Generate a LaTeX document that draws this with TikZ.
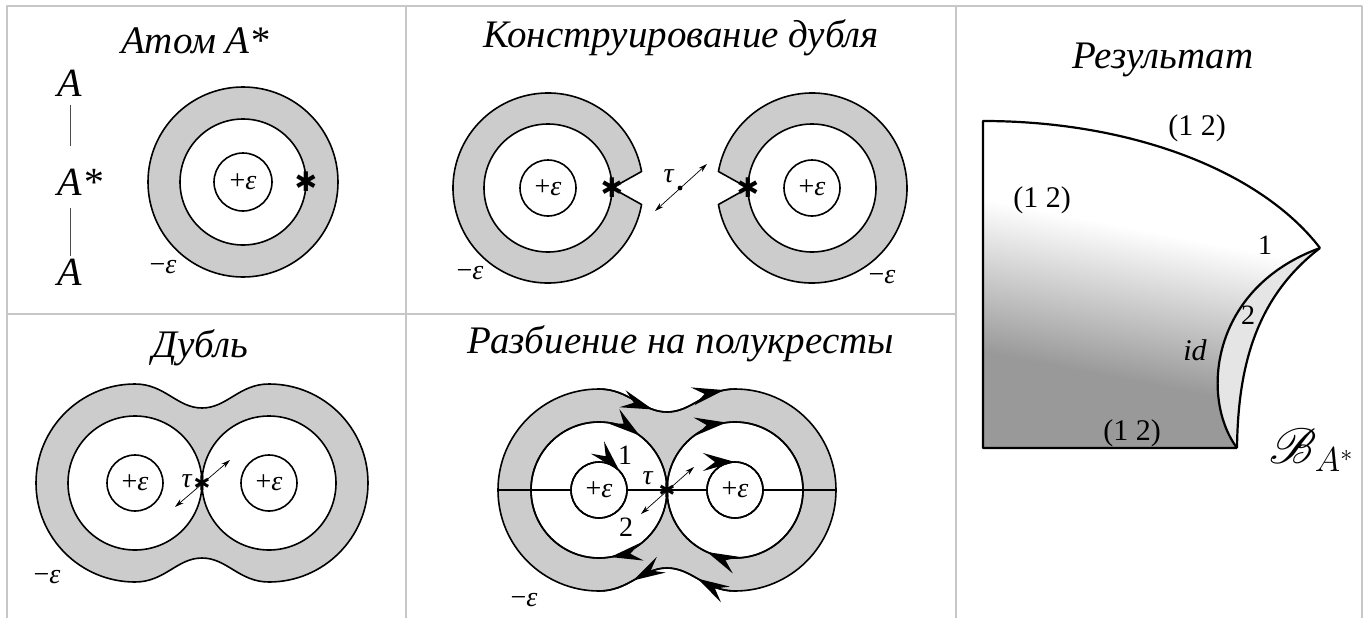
\documentclass[tikz,border=0pt]{standalone}
\usepackage{fontspec}
\setmainfont{Liberation Serif}
\newfontfamily\symfont{DejaVu Sans}
\usepackage{mathrsfs}
\usetikzlibrary{arrows.meta,decorations.markings,calc}
\tikzset{flowtip/.tip={Stealth[length=16pt,width=9pt,inset=6pt]}}
\colorlet{fadedark}{black!40}
\colorlet{fadelight}{white}
\pgfdeclareverticalshading{fade}{100bp}{color(0bp)=(fadedark); color(35bp)=(fadedark); color(58bp)=(fadelight); color(100bp)=(fadelight)}
\begin{document}
\begin{tikzpicture}[x=0.5pt, y=0.5pt, line join=round,
  grid/.style={draw=black!22, line width=1pt},
  rim/.style={draw, line width=0.8pt},
  band/.style={rim, fill=black!20, even odd rule},
  edge/.style={draw, line width=1.1pt},
  title/.style={font=\fontsize{19.5}{22}\selectfont\itshape, anchor=base},
  bigA/.style={font=\fontsize{20}{22}\selectfont\itshape, inner sep=0pt},
  lbl/.style={font=\fontsize{14}{16}\selectfont, inner sep=1pt},
  perm/.style={font=\fontsize{15}{17}\selectfont, inner sep=1pt},
  starmk/.style={font=\fontsize{13.5}{14}\selectfont\symfont, inner sep=0pt},
  twist/.style={{Stealth[length=4.5pt,width=2.6pt]}-{Stealth[length=4.5pt,width=2.6pt]}, line width=0.35pt},
  cw at/.style={postaction={decorate, decoration={markings,
      mark=at position #1 with {\arrowreversed{flowtip}}}}},
  fw at/.style={postaction={decorate, decoration={markings,
      mark=at position #1 with {\arrow{flowtip}}}}},
]
\useasboundingbox (0,0) rectangle (1371,618);

% table rules
\draw[grid] (7,0) -- (7,612) -- (1362,612) -- (1362,0);
\draw[grid] (406,0) -- (406,612);
\draw[grid] (956,0) -- (956,612);
\draw[grid] (7,304) -- (956,304);

% atom A*
\node[title] (t1) at (195,565) {Атом A*};
\node[bigA] (aup) at (70,535) {A};
\node[bigA] (amid) at (70,436) {A\rlap{*}};
\node[bigA] (adown) at (70,346) {A};
\draw[line width=0.5pt, black!70, shorten <=4pt, shorten >=11pt] (aup.south) -- (aup.south |- amid.north);
\draw[line width=0.5pt, black!70, shorten <=6pt, shorten >=1pt] (adown.north |- amid.south) -- (adown.north);
\coordinate (c1) at (243,436);
\path[band] (c1) circle[radius=95] (c1) circle[radius=63];
\draw[rim] (c1) circle[radius=29];
\node[lbl] (e1) at (c1) {+\textit{ε}};
\node[starmk] (s1) at ($(c1)+(63,0)$) {✱};
\node[lbl] (m1) at (163,351) {−\textit{ε}};

% building the double
\node[title] (t2) at (681,571) {Конструирование дубля};
\coordinate (c2l) at (548,430);
\coordinate (c2r) at (812,430);
\path[band] ($(c2l)+(10:95)$) arc[start angle=10, end angle=350, radius=95]
  -- ($(c2l)+(64,0)$) -- cycle (c2l) circle[radius=64];
\path[band] ($(c2r)+(190:95)$) arc[start angle=190, end angle=530, radius=95]
  -- ($(c2r)+(-64,0)$) -- cycle (c2r) circle[radius=64];
\draw[rim] (c2l) circle[radius=28] (c2r) circle[radius=28];
\node[lbl] (e2l) at (c2l) {+\textit{ε}};
\node[lbl] (e2r) at (c2r) {+\textit{ε}};
\node[starmk] (s2l) at ($(c2l)+(64,0)$) {✱};
\node[starmk] (s2r) at ($(c2r)+(-64,0)$) {✱};
\coordinate (g2) at ($(s2l)!0.5!(s2r)$);
\coordinate (g2a) at ($(g2)+(-25,-23)$);
\coordinate (g2b) at ($(g2)+(27,24)$);
\draw[twist] (g2a) -- (g2b);
\fill (g2) circle[radius=2.4];
\node[lbl] (tau2) at ($(g2)+(-11,12)$) {\textit{τ}};
\node[lbl] (m2l) at (470,345) {−\textit{ε}};
\node[lbl] (m2r) at (882,341) {−\textit{ε}};

% the double
\node[title] (t3) at (200,261) {Дубль};
\begin{scope}[shift={(202,135)}]
  \coordinate (d3) at (0,0);
  \path[band] (-67,99) .. controls (-37,99) and (-25,75) .. (0,75)
    .. controls (25,75) and (37,99) .. (67,99)
    arc[start angle=90, end angle=-90, radius=99]
    .. controls (37,-99) and (25,-75) .. (0,-75)
    .. controls (-25,-75) and (-37,-99) .. (-67,-99)
    arc[start angle=270, end angle=90, radius=99] -- cycle
    (-67,0) circle[radius=67] (67,0) circle[radius=67];
  \draw[rim] (-67,0) circle[radius=28] (67,0) circle[radius=28];
  \node[lbl] (e3l) at (-67,0) {+\textit{ε}};
  \node[lbl] (e3r) at (67,0) {+\textit{ε}};
  \coordinate (g3a) at (-27,-24);
  \coordinate (g3b) at (28,23);
  \draw[twist] (g3a) -- (g3b);
  \node[starmk, font=\fontsize{10}{10}\selectfont\symfont] (s3) at (d3) {✱};
  \node[lbl] (tau3) at (-15,2) {\textit{τ}};
\end{scope}
\node[lbl] (m3) at (47,41) {−\textit{ε}};

% splitting into half-crosses
\node[title] (t4) at (681,265) {Разбиение на полукресты};
\begin{scope}[shift={(667,128)}]
  \coordinate (d4) at (0,0);
  \path[band] (-68,101) .. controls (-38,101) and (-25,78) .. (0,78)
    .. controls (25,78) and (38,101) .. (68,101)
    arc[start angle=90, end angle=-90, radius=101]
    .. controls (38,-101) and (25,-78) .. (0,-78)
    .. controls (-25,-78) and (-38,-101) .. (-68,-101)
    arc[start angle=270, end angle=90, radius=101] -- cycle
    (-68,0) circle[radius=68] (68,0) circle[radius=68];
  \draw[rim] (-68,0) circle[radius=28] (68,0) circle[radius=28];
  % cut line
  \draw[rim] (-169,0) -- (-96,0) (-40,0) -- (40,0) (96,0) -- (169,0);
  % orientation
  \draw[rim, fw at=0.8] (-68,101) .. controls (-38,101) and (-25,78) .. (0,78);
  \draw[rim, fw at=0.85] (0,78) .. controls (25,78) and (38,101) .. (68,101);
  \draw[rim, fw at=0.55] (68,-101) .. controls (38,-101) and (25,-78) .. (0,-78);
  \draw[rim, fw at=0.5] (0,-78) .. controls (-25,-78) and (-38,-101) .. (-68,-101);
  \draw[rim, cw at=0.148, cw at=0.777] (-68,0) circle[radius=68];
  \draw[rim, cw at=0.27, cw at=0.683] (68,0) circle[radius=68];
  \draw[rim, cw at=0.12] (-68,0) circle[radius=28];
  \draw[rim, cw at=0.25] (68,0) circle[radius=28];
  \node[lbl] (e4l) at (-68,0) {+\textit{ε}};
  \node[lbl] (e4r) at (68,0) {+\textit{ε}};
  \coordinate (g4a) at (-26,-24);
  \coordinate (g4b) at (27,23);
  \draw[twist] (g4a) -- (g4b);
  \node[starmk, font=\fontsize{10}{10}\selectfont\symfont] (s4) at (d4) {✱};
  \node[lbl] (tau4) at (-19,12) {\textit{τ}};
  \node[lbl] (one4) at (-42,35) {1};
  \node[lbl] (two4) at (-41,-37) {2};
\end{scope}
\node[lbl] (m4) at (524,18) {−\textit{ε}};

% result
\node[title] (t5) at (1163,550) {Результат};
\coordinate (r5tl) at (983,497);
\coordinate (r5bl) at (983,170);
\coordinate (r5br) at (1237,170);
\coordinate (r5tip) at (1320,370);
\shade[shading=fade, shading angle=-11] (r5tl) .. controls (1130,497) and (1260,448) .. (r5tip)
  .. controls (1210,330) and (1200,220) .. (r5br) -- (r5bl) -- cycle;
\fill[black!10] (r5br) .. controls (1200,220) and (1210,330) .. (r5tip)
  .. controls (1255,320) and (1238,250) .. (r5br);
\draw[edge] (r5br) -- (r5bl) -- (r5tl) .. controls (1130,497) and (1260,448) .. (r5tip);
\draw[edge] (r5br) .. controls (1200,220) and (1210,330) .. (r5tip);
\draw[edge] (r5br) .. controls (1238,250) and (1255,320) .. (r5tip);
\node[perm] (p5top) at (1197,490) {(1 2)};
\node[perm] (p5left) at (1042,418) {(1 2)};
\node[perm] (p5bot) at (1132,185) {(1 2)};
\node[lbl] (one5) at (1265,373) {1};
\node[lbl] (two5) at (1248,303) {2};
\node[perm, font=\fontsize{15}{17}\selectfont\itshape] (id5) at (1195,268) {id};
\node[font=\fontsize{24}{26}\selectfont] (b5) at (1312,168) {$\mathscr{B}_{A^*}$};
\end{tikzpicture}
\end{document}
